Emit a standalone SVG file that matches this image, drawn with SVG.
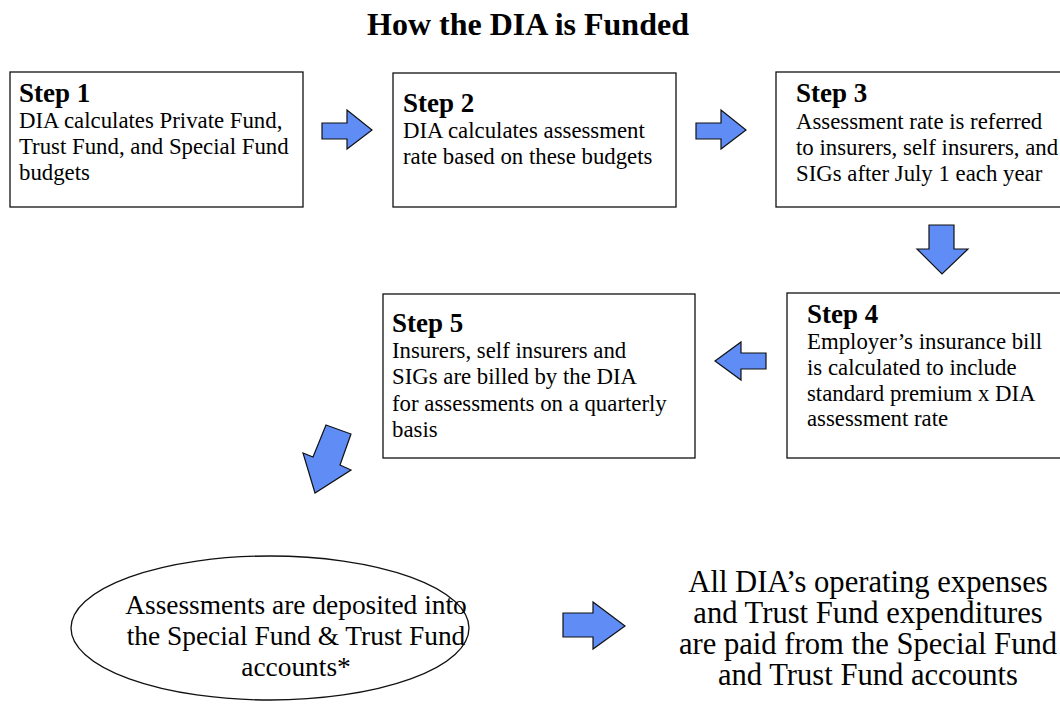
<svg xmlns="http://www.w3.org/2000/svg" width="1060" height="725" viewBox="0 0 1060 725">
<style>
.box{fill:#fff;stroke:#111;stroke-width:1.3}
.arr{fill:#5f8cf5;stroke:#111;stroke-width:1.2;stroke-linejoin:miter}
.h{font-family:"Liberation Serif","Times New Roman",serif;font-weight:bold;font-size:27px;fill:#000}
.b{font-family:"Liberation Serif","Times New Roman",serif;font-size:22.8px;fill:#000}
.t{font-family:"Liberation Serif","Times New Roman",serif;font-weight:bold;font-size:32px;fill:#000}
.e{font-family:"Liberation Serif","Times New Roman",serif;font-size:27.4px;fill:#000}
.r{font-family:"Liberation Serif","Times New Roman",serif;font-size:30.6px;fill:#000}
</style>
<rect width="1060" height="725" fill="#fff"/>
<text class="t" x="528" y="35" text-anchor="middle">How the DIA is Funded</text>
<g id="step1">
<rect class="box" x="10" y="72" width="293" height="135"/>
<text class="h" x="19" y="102">Step 1</text>
<text class="b" x="19" y="128">DIA calculates Private Fund,</text>
<text class="b" x="19" y="154">Trust Fund, and Special Fund</text>
<text class="b" x="19" y="180">budgets</text>
</g>
<g id="step2">
<rect class="box" x="393" y="73" width="283" height="134"/>
<text class="h" x="403" y="112">Step 2</text>
<text class="b" x="403" y="138">DIA calculates assessment</text>
<text class="b" x="403" y="164">rate based on these budgets</text>
</g>
<g id="step3">
<rect class="box" x="776" y="72" width="300" height="135"/>
<text class="h" x="796" y="102">Step 3</text>
<text class="b" x="796" y="129">Assessment rate is referred</text>
<text class="b" x="796" y="155">to insurers, self insurers, and</text>
<text class="b" x="796" y="181">SIGs after July 1 each year</text>
</g>
<g id="step4">
<rect class="box" x="787" y="293" width="290" height="165"/>
<text class="h" x="807" y="323">Step 4</text>
<text class="b" x="807" y="349">Employer’s insurance bill</text>
<text class="b" x="807" y="375">is calculated to include</text>
<text class="b" x="807" y="401">standard premium x DIA</text>
<text class="b" x="807" y="426">assessment rate</text>
</g>
<g id="step5">
<rect class="box" x="383" y="294" width="312" height="164"/>
<text class="h" x="392" y="332">Step 5</text>
<text class="b" x="392" y="358">Insurers, self insurers and</text>
<text class="b" x="392" y="384">SIGs are billed by the DIA</text>
<text class="b" x="392" y="411">for assessments on a quarterly</text>
<text class="b" x="392" y="437">basis</text>
</g>
<g id="deposit">
<ellipse class="box" cx="270" cy="628" rx="199" ry="72"/>
<text class="e" x="296" y="614" text-anchor="middle">Assessments are deposited into</text>
<text class="e" x="296" y="645" text-anchor="middle">the Special Fund &amp; Trust Fund</text>
<text class="e" x="296" y="676" text-anchor="middle">accounts*</text>
</g>
<g id="expenses">
<text class="r" x="868" y="592" text-anchor="middle">All DIA’s operating expenses</text>
<text class="r" x="868" y="623" text-anchor="middle">and Trust Fund expenditures</text>
<text class="r" x="868" y="654" text-anchor="middle">are paid from the Special Fund</text>
<text class="r" x="868" y="685" text-anchor="middle">and Trust Fund accounts</text>
</g>
<g id="connectors">
<polygon class="arr" points="322,123 347,123 347,110 372,130 347,149 347,139 322,139"/>
<polygon class="arr" points="696,123 721,123 721,110 746,130 721,149 721,139 696,139"/>
<polygon class="arr" points="929,225 954,225 954,249 968,249 942,274 917,249 929,249"/>
<polygon class="arr" points="766,353 741,353 741,342 715,361 741,380 741,369 766,369"/>
<polygon class="arr" points="326,425 351,434 340,465 351,470 315,493 303,453 313,457"/>
<polygon class="arr" points="563,613 593,613 593,602 625,626 593,649 593,637 563,637"/>
</g>
</svg>
